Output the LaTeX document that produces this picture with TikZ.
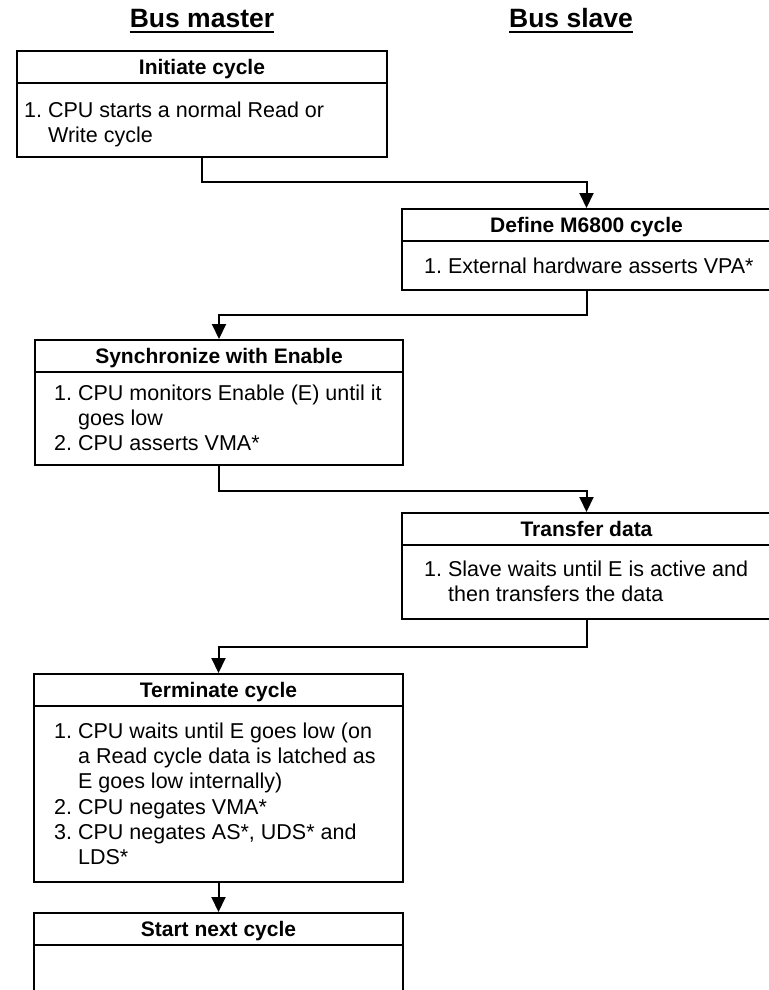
\documentclass[tikz,border=0pt]{standalone}
\usepackage{fontspec}
\setmainfont{Liberation Sans}
\usetikzlibrary{arrows.meta,calc}
\tikzset{
 box/.style={draw, line width=2pt, rectangle, inner sep=0pt},
 sepline/.style={line width=2.6pt},
 conn/.style={line width=2pt, -{Triangle[length=15pt,width=14pt]}},
 boxtitle/.style={font=\bfseries\fontsize{21}{25}\selectfont, inner sep=0pt, anchor=base},
 body/.style={font=\fontsize{21.5}{25.2}\selectfont, inner sep=0pt, anchor=base west},
 heading/.style={font=\bfseries\fontsize{26.5}{30}\selectfont, inner sep=0pt, anchor=base},
 uline/.style={line width=2pt},
}
\newcommand{\itemtab}[1]{\begin{tabular}[t]{@{}l@{\hspace{5.98pt}}l@{}}#1\end{tabular}}
\begin{document}
\begin{tikzpicture}[x=1pt,y=-1pt]
\useasboundingbox (0,0) rectangle (768,990);

% column headings
\node[heading] (hm) at (202,28) {Bus master};
\draw[uline] ([yshift=-4.5pt]hm.base west) -- ([yshift=-4.5pt]hm.base east);
\node[heading] (hs) at (571,28) {Bus slave};
\draw[uline] ([yshift=-4.5pt]hs.base west) -- ([yshift=-4.5pt]hs.base east);

% boxes
\node[box, minimum width=370pt, minimum height=106pt] (b1) at (202,104) {};
\node[box, minimum width=369pt, minimum height=81pt] (b2) at (586.5,249.5) {};
\node[box, minimum width=368pt, minimum height=125pt] (b3) at (219,402.5) {};
\node[box, minimum width=369pt, minimum height=106pt] (b4) at (586.5,566) {};
\node[box, minimum width=369pt, minimum height=208pt] (b5) at (218.5,778) {};
\node[box, minimum width=369pt, minimum height=120pt] (b6) at (218.5,973) {};

% header separators and titles
\foreach \b/\t in {b1/Initiate cycle, b2/Define M6800 cycle, b3/Synchronize with Enable, b4/Transfer data, b5/Terminate cycle, b6/Start next cycle}{
  \draw[sepline] ($(\b.north west)+(0,33)$) -- ($(\b.north east)+(0,33)$);
  \node[boxtitle] (\b t) at ($(\b.north)+(0,24.5)$) {\t};
}

% body texts
\node[body] (x1) at ($(b1.north west)+(8,67)$) {\itemtab{1.&CPU starts a normal Read or\\ &Write cycle}};
\node[body] (x2) at ($(b2.north west)+(23,65.5)$) {\itemtab{1.&External hardware asserts VPA*}};
\node[body] (x3) at ($(b3.north west)+(20,61.5)$) {\itemtab{1.&CPU monitors Enable (E) until it\\ &goes low\\ 2.&CPU asserts VMA*}};
\node[body] (x4) at ($(b4.north west)+(23,64.5)$) {\itemtab{1.&Slave waits until E is active and\\ &then transfers the data}};
\node[body] (x5) at ($(b5.north west)+(21,65.5)$) {\itemtab{1.&CPU waits until E goes low (on\\ &a Read cycle data is latched as\\ &E goes low internally)\\ 2.&CPU negates VMA*\\ 3.&CPU negates AS*, UDS* and\\ &LDS*}};

% connectors
\draw[conn] (b1.south) -- ++(0,24) -| (b2.north);
\draw[conn] (b2.south) -- ++(0,24) -| (b3.north);
\draw[conn] (b3.south) -- ++(0,25) -| (b4.north);
\draw[conn] (b4.south) -- ++(0,27) -| (b5.north);
\draw[conn] (b5.south) -- (b6.north);
\end{tikzpicture}
\end{document}
